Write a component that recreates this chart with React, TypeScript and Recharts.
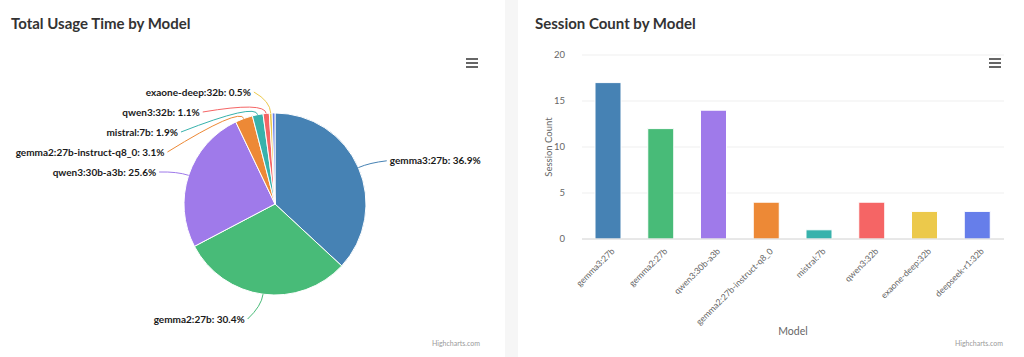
import { PieChart, Pie, Cell, BarChart, Bar, XAxis, YAxis, CartesianGrid, Label } from 'recharts'

const models = [
  'gemma3:27b',
  'gemma2:27b',
  'qwen3:30b-a3b',
  'gemma2:27b-instruct-q8_0',
  'mistral:7b',
  'qwen3:32b',
  'exaone-deep:32b',
  'deepseek-r1:32b',
]
const usageShare = [36.9, 30.4, 25.6, 3.1, 1.9, 1.1, 0.5, 0.5]
const sessionCounts = [17, 12, 14, 4, 1, 4, 3, 3]
const modelColors = ['#4682b4', '#48bb78', '#9f7aea', '#ed8936', '#38b2ac', '#f56565', '#ecc94b', '#667eea']
// highcharts dropped this label in the original (no room)
const hiddenLabels = ['deepseek-r1:32b']
const yTicks = [0, 5, 10, 15, 20]

const FONT = 'Lato, "Open Sans", sans-serif'
const PIE_R = 91
const LABEL_R = 115
const LABEL_GAP = 20

const pieData = models.map((name, i) => ({ name, value: usageShare[i] }))
const barData = models.map((name, i) => ({ name, sessions: sessionCounts[i] }))

// spread the pie labels like highcharts does: stack them per side, keep them apart
function layoutLabels() {
  const total = usageShare.reduce((a, b) => a + b, 0)
  let cum = 0
  const items = models.map((name, i) => {
    const theta = ((cum + usageShare[i] / 2) / total) * 2 * Math.PI
    cum += usageShare[i]
    return { i, name, left: Math.sin(theta) < 0, target: -Math.cos(theta) * (PIE_R + 27) + 4 }
  })
  const out: Record<number, { dx: number; dy: number; left: boolean }> = {}
  const minY = -112
  const maxY = 115
  for (const side of [true, false]) {
    const list = items
      .filter(it => it.left === side && !hiddenLabels.includes(it.name))
      .sort((a, b) => a.target - b.target)
    let groups = list.map(it => ({ items: [it], pos: it.target }))
    const place = (g: { items: typeof list; pos: number }) => {
      const n = g.items.length
      const mean = g.items.reduce((s, it, k) => s + it.target - k * LABEL_GAP, 0) / n
      g.pos = Math.min(Math.max(mean, minY), maxY - (n - 1) * LABEL_GAP)
    }
    groups.forEach(place)
    let merged = true
    while (merged) {
      merged = false
      for (let k = 0; k < groups.length - 1; k++) {
        const a = groups[k]
        const b = groups[k + 1]
        if (a.pos + a.items.length * LABEL_GAP > b.pos) {
          const g = { items: [...a.items, ...b.items], pos: 0 }
          place(g)
          groups = [...groups.slice(0, k), g, ...groups.slice(k + 2)]
          merged = true
          break
        }
      }
    }
    groups.forEach(g => {
      g.items.forEach((it, k) => {
        const dy = g.pos + k * LABEL_GAP
        const yy = dy - 2
        const dx = Math.sqrt(Math.max(LABEL_R * LABEL_R - yy * yy, 0)) + 9
        out[it.i] = { dx, dy, left: side }
      })
    })
  }
  return out
}

const labelPos = layoutLabels()

const renderPieLabel = (props: any) => {
  const { cx, cy, midAngle, outerRadius, index } = props
  const pos = labelPos[index]
  if (!pos) return null
  const rad = (-midAngle * Math.PI) / 180
  const tx = cx + Math.cos(rad) * outerRadius
  const ty = cy + Math.sin(rad) * outerRadius
  const bx = cx + Math.cos(rad) * (outerRadius + 12)
  const by = cy + Math.sin(rad) * (outerRadius + 12)
  const lx = pos.left ? cx - pos.dx : cx + pos.dx
  const ly = cy + pos.dy
  const sx = pos.left ? lx + 3 : lx - 3
  return (
    <g>
      <path
        d={`M${sx},${ly} Q${bx},${by} ${tx},${ty}`}
        fill="none"
        stroke={modelColors[index]}
        strokeWidth={1}
      />
      <text
        x={lx}
        y={ly}
        dy="0.35em"
        textAnchor={pos.left ? 'end' : 'start'}
        fontFamily={FONT}
        fontSize={10}
        fontWeight={700}
        fill="#1a1a1a"
        stroke="#fff"
        strokeWidth={2}
        paintOrder="stroke"
      >
        {`${models[index]}: ${usageShare[index].toFixed(1)}%`}
      </text>
    </g>
  )
}

const RotatedTick = ({ x, y, payload }: any) => (
  <text
    x={x + 5}
    y={y + 11}
    dy="0.3em"
    textAnchor="end"
    transform={`rotate(-45, ${x + 5}, ${y + 11})`}
    fontFamily={FONT}
    fontSize={8.7}
    fill="#666"
  >
    {payload.value}
  </text>
)

function MenuIcon({ left }: { left: number }) {
  return (
    <div style={{ position: 'absolute', left, top: 58, width: 12 }}>
      {[0, 1, 2].map(k => (
        <div key={k} style={{ height: 2, background: '#666', marginBottom: 2 }} />
      ))}
    </div>
  )
}

const titleStyle: React.CSSProperties = {
  position: 'absolute',
  top: 14,
  fontFamily: FONT,
  fontSize: 15,
  fontWeight: 700,
  color: '#333',
  whiteSpace: 'nowrap',
}

const creditStyle: React.CSSProperties = {
  position: 'absolute',
  top: 339,
  fontFamily: FONT,
  fontSize: 7,
  color: '#999',
}

export default function App() {
  return (
    <div style={{ position: 'fixed', left: 0, top: 0, width: 1024, height: 357, background: '#fff', overflow: 'hidden' }}>
      {/* left card */}
      <div style={{ position: 'absolute', left: 0, top: 0, width: 505, height: 357 }}>
        <PieChart width={505} height={357} margin={{ top: 0, right: 0, bottom: 0, left: 0 }}>
          <Pie
            data={pieData}
            dataKey="value"
            nameKey="name"
            cx={275}
            cy={204}
            outerRadius={PIE_R}
            startAngle={90}
            endAngle={-270}
            stroke="#fff"
            strokeWidth={1}
            label={renderPieLabel}
            labelLine={false}
            isAnimationActive={false}
          >
            {pieData.map((d, i) => (
              <Cell key={d.name} fill={modelColors[i]} />
            ))}
          </Pie>
        </PieChart>
        <div style={{ ...titleStyle, left: 11 }}>Total Usage Time by Model</div>
        <MenuIcon left={466} />
        <div style={{ ...creditStyle, right: 25 }}>Highcharts.com</div>
      </div>

      {/* divider strip between cards */}
      <div style={{ position: 'absolute', left: 505, top: 0, width: 13, height: 357, background: '#f6f6f6' }} />

      {/* right card */}
      <div style={{ position: 'absolute', left: 518, top: 0, width: 506, height: 357 }}>
        <BarChart width={506} height={357} data={barData} margin={{ top: 55, right: 20, left: 0, bottom: 0 }}>
          <CartesianGrid vertical={false} stroke="#efefef" />
          <XAxis
            dataKey="name"
            interval={0}
            height={118}
            tick={<RotatedTick />}
            tickLine={false}
            tickSize={0}
            tickMargin={0}
            axisLine={{ stroke: '#d8d8d8' }}
          >
            <Label
              content={({ viewBox }: any) => (
                <text
                  x={viewBox.x + viewBox.width / 2}
                  y={viewBox.y + viewBox.height - 22}
                  textAnchor="middle"
                  fontFamily={FONT}
                  fontSize={10.5}
                  fill="#666"
                >
                  Model
                </text>
              )}
            />
          </XAxis>
          <YAxis
            width={64}
            domain={[0, 20]}
            ticks={yTicks}
            tickLine={false}
            tickSize={0}
            tickMargin={17}
            axisLine={false}
            tick={{ fontSize: 9.5, fill: '#666', fontFamily: FONT }}
          >
            <Label
              content={({ viewBox }: any) => {
                const x = viewBox.x + 31
                const y = viewBox.y + viewBox.height / 2
                return (
                  <text
                    x={x}
                    y={y}
                    dy="0.35em"
                    textAnchor="middle"
                    transform={`rotate(-90, ${x}, ${y})`}
                    fontFamily={FONT}
                    fontSize={9.5}
                    fill="#666"
                  >
                    Session Count
                  </text>
                )
              }}
            />
          </YAxis>
          <Bar dataKey="sessions" barSize={26} stroke="#fff" strokeWidth={1} isAnimationActive={false}>
            {barData.map((d, i) => (
              <Cell key={d.name} fill={modelColors[i]} />
            ))}
          </Bar>
        </BarChart>
        <div style={{ ...titleStyle, left: 17 }}>Session Count by Model</div>
        <MenuIcon left={471} />
        <div style={{ ...creditStyle, right: 21 }}>Highcharts.com</div>
      </div>
    </div>
  )
}
